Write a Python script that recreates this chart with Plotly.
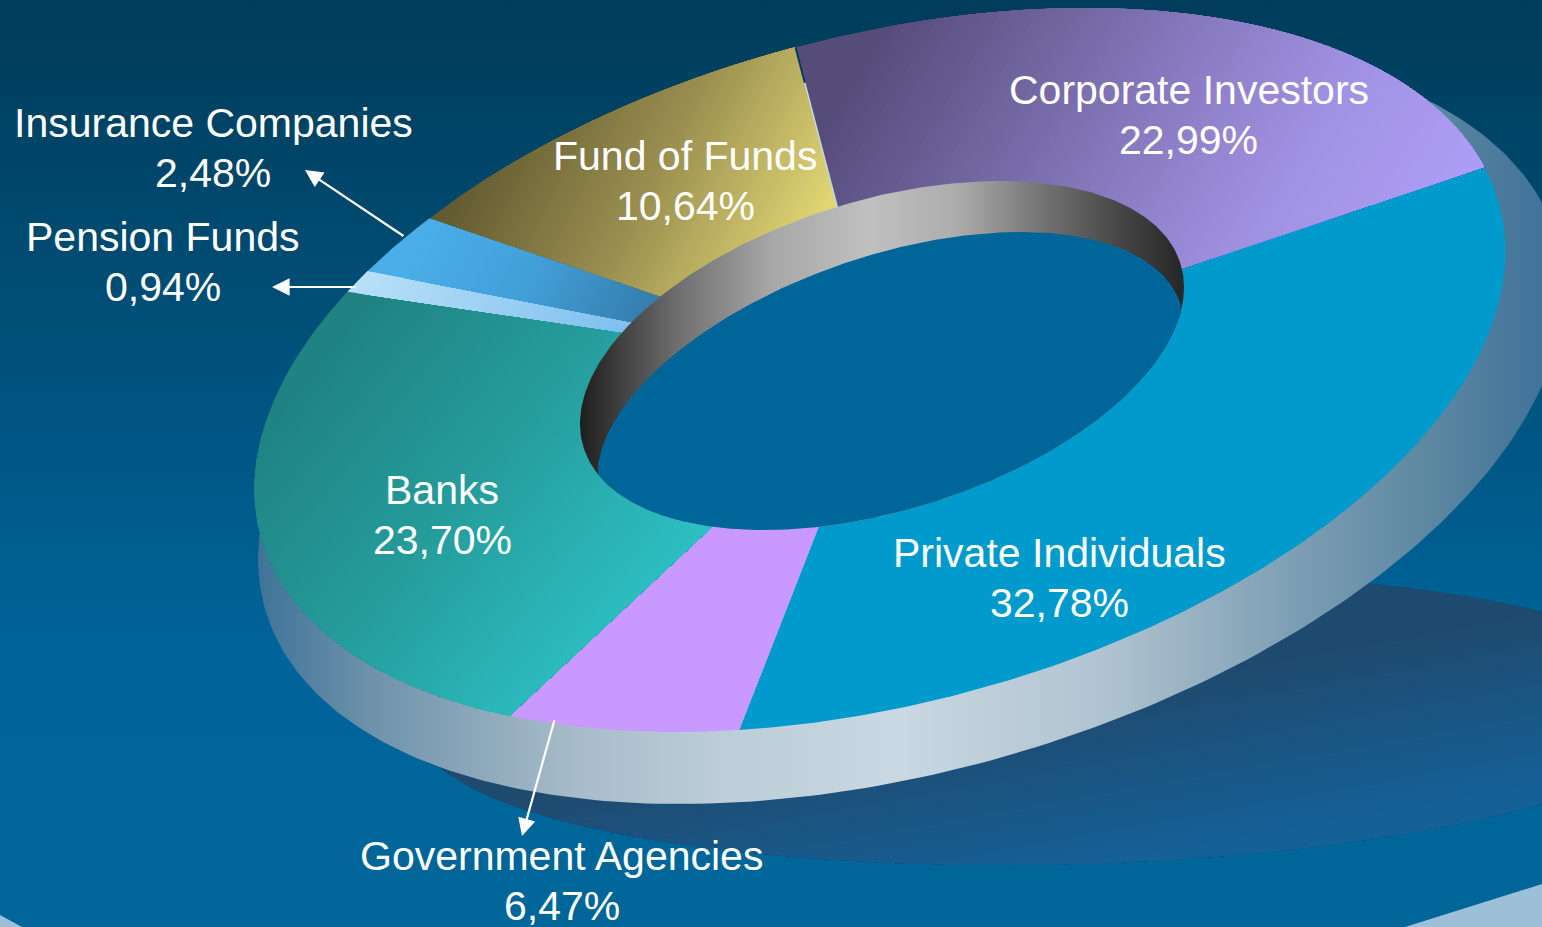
import numpy as np
import plotly.graph_objects as go

# ---- data -------------------------------------------------------------
categories = ["Private Individuals", "Government Agencies", "Banks", "Pension Funds",
              "Insurance Companies", "Fund of Funds", "Corporate Investors"]
shares = [32.78, 6.47, 23.70, 0.94, 2.48, 10.64, 22.99]

# ---- styles -----------------------------------------------------------
W_PX, H_PX = 1542, 927
FONT = "Liberation Sans"
SLICE_STYLE = {
    "Private Individuals": dict(stops=[(0, "#009acd"), (1, "#009acd")], dir=(1, 0), rng=(0, 1)),
    "Government Agencies": dict(stops=[(0, "#c999ff"), (1, "#c999ff")], dir=(1, 0), rng=(0, 1)),
    "Banks": dict(stops=[(0, "#208282"), (0.45, "#259a9a"), (1, "#2dbfc2")], dir=(1, 0.8), rng=(600, 1130)),
    "Pension Funds": dict(stops=[(0, "#b8e0f8"), (1, "#7fc0ee")], dir=(1, 0.5), rng=(500, 790)),
    "Insurance Companies": dict(stops=[(0, "#4aaee8"), (0.5, "#429fd8"), (1, "#357fae")], dir=(1, 0.5), rng=(540, 800)),
    "Fund of Funds": dict(stops=[(0, "#625a32"), (0.5, "#9a8f50"), (1, "#e2d774")], dir=(1, 0.5), rng=(550, 935)),
    "Corporate Investors": dict(stops=[(0, "#564c7a"), (0.5, "#8a7cc2"), (0.75, "#a092e2"), (1, "#ac9cf5")],
                                dir=(1, 0.6), rng=(900, 1560)),
}
LABEL_POS = {
    "Private Individuals": (1059, 553), "Government Agencies": (561.5, 856), "Banks": (442, 490),
    "Pension Funds": (163, 237), "Insurance Companies": (213, 123), "Fund of Funds": (685, 156),
    "Corporate Investors": (1188.5, 90),
}
LINE_GAP = 49.5
ARROWS = [((405, 237), (305, 170)), ((357, 287), (272, 287)), ((555, 718), (522, 836))]


def hex2rgb(h):
    return np.array([int(h[i:i + 2], 16) for i in (1, 3, 5)], float)


def ramp(stops, u):
    u = min(1, max(0, u))
    for (a, ca), (b, cb) in zip(stops, stops[1:]):
        if u <= b:
            f = (u - a) / (b - a)
            c = hex2rgb(ca) * (1 - f) + hex2rgb(cb) * f
            return "rgb(%d,%d,%d)" % tuple(c.round())
    return stops[-1][1]


class Ell:
    """Affine image of a circle: half width W, half height H, top point offset dx."""
    def __init__(self, cx, cy, W, H, dx):
        self.c = np.array([cx, cy], float)
        c = -dx * H
        self.a = c / W
        self.b = np.sqrt(H * H - self.a ** 2)
        self.W = W

    def pt(self, t, r=1.0):
        return (self.c[0] + r * self.W * np.cos(t),
                self.c[1] + r * (self.a * np.cos(t) + self.b * np.sin(t)))

    def outline(self, n=361):
        return self.pt(np.linspace(0, 2 * np.pi, n))

    def yrange(self, x):
        u = (x - self.c[0]) / self.W
        s = np.sqrt(np.clip(1 - u * u, 0, None))
        m = self.a * u
        return self.c[1] + m - self.b * s, self.c[1] + m + self.b * s


fig = go.Figure()


def poly(x, y, **kw):
    fig.add_trace(go.Scatter(x=x, y=y, mode="lines", fill="toself", line=dict(width=0),
                             hoverinfo="skip", showlegend=False, **kw))


def clip_half(px, py, d, level):
    """Keep the part of a convex polygon where d.(x,y) >= level."""
    s = d[0] * px + d[1] * py - level
    ox, oy = [], []
    n = len(px)
    for i in range(n):
        j = (i + 1) % n
        if s[i] >= 0:
            ox.append(px[i]); oy.append(py[i])
        if (s[i] >= 0) != (s[j] >= 0):
            f = s[i] / (s[i] - s[j])
            ox.append(px[i] + f * (px[j] - px[i])); oy.append(py[i] + f * (py[j] - py[i]))
    return np.array(ox), np.array(oy)


def graded(px, py, stops, d, rng, bins=90):
    """Painter-style linear gradient at any angle: each band covers everything above its level."""
    px, py = np.asarray(px, float), np.asarray(py, float)
    poly(list(px) + [px[0]], list(py) + [py[0]], fillcolor=ramp(stops, 0))
    for k in range(1, bins):
        u = k / (bins - 1)
        qx, qy = clip_half(px, py, d, rng[0] + (rng[1] - rng[0]) * (k - 0.5) / (bins - 1))
        if len(qx) >= 3:
            poly(list(qx) + [qx[0]], list(qy) + [qy[0]], fillcolor=ramp(stops, u))


# background
poly([0, W_PX, W_PX, 0, 0], [0, 0, H_PX, H_PX, 0],
     fillgradient=dict(type="vertical", start=0, stop=H_PX,
                       colorscale=[[0, "#003c5a"], [0.35, "#004f78"], [0.7, "#00649a"], [1, "#006699"]]))
poly([1405, W_PX, W_PX, 1405], [H_PX, 884, H_PX, H_PX], fillcolor="#9bc0d8")
poly([0, 22, 0, 0], [915, H_PX, H_PX, 915], fillcolor="#9bc0d8")

# shadow
shadow = Ell(1060, 718, 640, 147, 60)
sx, sy = shadow.outline(241)
graded(sx[:-1], sy[:-1], [(0, "#1f4a6f"), (1, "#156096")], (0.18, 1), (890, 1060), bins=40)

# outer side wall
wall = Ell(911, 424, 653, 380, 231)
wx, wy = wall.outline()
poly(wx, wy, fillgradient=dict(type="horizontal", start=258, stop=1542, colorscale=[
    [0, "#3e7398"], [0.09, "#6f93ab"], [0.24, "#a5bac8"], [0.36, "#bccdd8"], [0.5, "#c9d8e2"],
    [0.66, "#b0c3d0"], [0.8, "#7fa0b5"], [0.92, "#5a86a0"], [1, "#41729a"]]))

# top face, slices from the shares
top = Ell(880, 370, 625.5, 362, 205)
T0 = np.radians(-15.0)
edges = T0 + np.cumsum([0] + shares) / sum(shares) * 2 * np.pi
for name, t1, t2 in zip(categories, edges[:-1], edges[1:]):
    st = SLICE_STYLE[name]
    ts = np.linspace(t1, t2, 200)
    ox, oy = top.pt(ts)
    wedge_x = np.r_[ox, top.c[0]]
    wedge_y = np.r_[oy, top.c[1]]
    if st["stops"][0][1] == st["stops"][-1][1]:
        poly(list(wedge_x) + [wedge_x[0]], list(wedge_y) + [wedge_y[0]], fillcolor=st["stops"][0][1])
    else:
        graded(wedge_x, wedge_y, st["stops"], st["dir"], st["rng"])

# thin edge between Fund of Funds and Corporate Investors
edge_t = edges[-2]
rr = np.array([0.46, 0.89])
ex, ey = top.pt(np.full(2, edge_t), rr)
fig.add_trace(go.Scatter(x=ex, y=ey, mode="lines", line=dict(width=1.4, color="#c5dbe6"),
                         hoverinfo="skip", showlegend=False))
rr = np.array([0.89, 1.0])
ex, ey = top.pt(np.full(2, edge_t), rr)
fig.add_trace(go.Scatter(x=ex, y=ey, mode="lines", line=dict(width=2, color="#023f5f"),
                         hoverinfo="skip", showlegend=False))

# hole: inner wall and floor
hole = Ell(882, 355.5, 302, 174.5, 118)
hx, hy = hole.outline()
poly(hx, hy, fillgradient=dict(type="horizontal", start=580, stop=1184, colorscale=[
    [0, "#1e1e1e"], [0.06, "#3c3c3c"], [0.16, "#6e6e6e"], [0.32, "#a8a8a8"], [0.48, "#c0c0c0"],
    [0.62, "#adadad"], [0.78, "#6e6e6e"], [0.9, "#444444"], [1, "#262626"]]))
floor_e = Ell(890.5, 402, 293.5, 170, 130)
xs = np.linspace(floor_e.c[0] - floor_e.W, hole.c[0] + hole.W, 500)
u1, l1 = hole.yrange(xs)
u2, l2 = floor_e.yrange(xs)
up, lo = np.maximum(u1, u2), np.minimum(l1, l2)
ok = lo >= up
xs, up, lo = xs[ok], up[ok], lo[ok]
poly(list(xs) + list(xs[::-1]) + [xs[0]], list(up) + list(lo[::-1]) + [up[0]], fillcolor="#006699")

# labels
ann = []
for name, val in zip(categories, shares):
    x, y = LABEL_POS[name]
    for i, txt in enumerate([name, ("%.2f%%" % val).replace(".", ",")]):
        ann.append(dict(x=x, y=y + i * LINE_GAP, text=txt, showarrow=False, xanchor="center", yanchor="middle",
                        font=dict(family=FONT, size=41, color="white")))
for (tx, ty), (hx_, hy_) in ARROWS:
    ann.append(dict(x=hx_, y=hy_, ax=tx, ay=ty, axref="x", ayref="y", xref="x", yref="y", text=" ",
                    font=dict(size=1), showarrow=True, arrowhead=2, arrowsize=1.6, arrowwidth=2.2,
                    arrowcolor="white", standoff=0))

fig.update_layout(width=W_PX, height=H_PX, margin=dict(l=0, r=0, t=0, b=0), autosize=False,
                  plot_bgcolor="#006699", paper_bgcolor="#006699", showlegend=False, annotations=ann,
                  xaxis=dict(range=[0, W_PX], visible=False, fixedrange=True),
                  yaxis=dict(range=[H_PX, 0], visible=False, fixedrange=True))
fig.write_html("out.html", config=dict(displayModeBar=False),
               post_script="document.body.style.margin='0';document.body.style.overflow='hidden';")
